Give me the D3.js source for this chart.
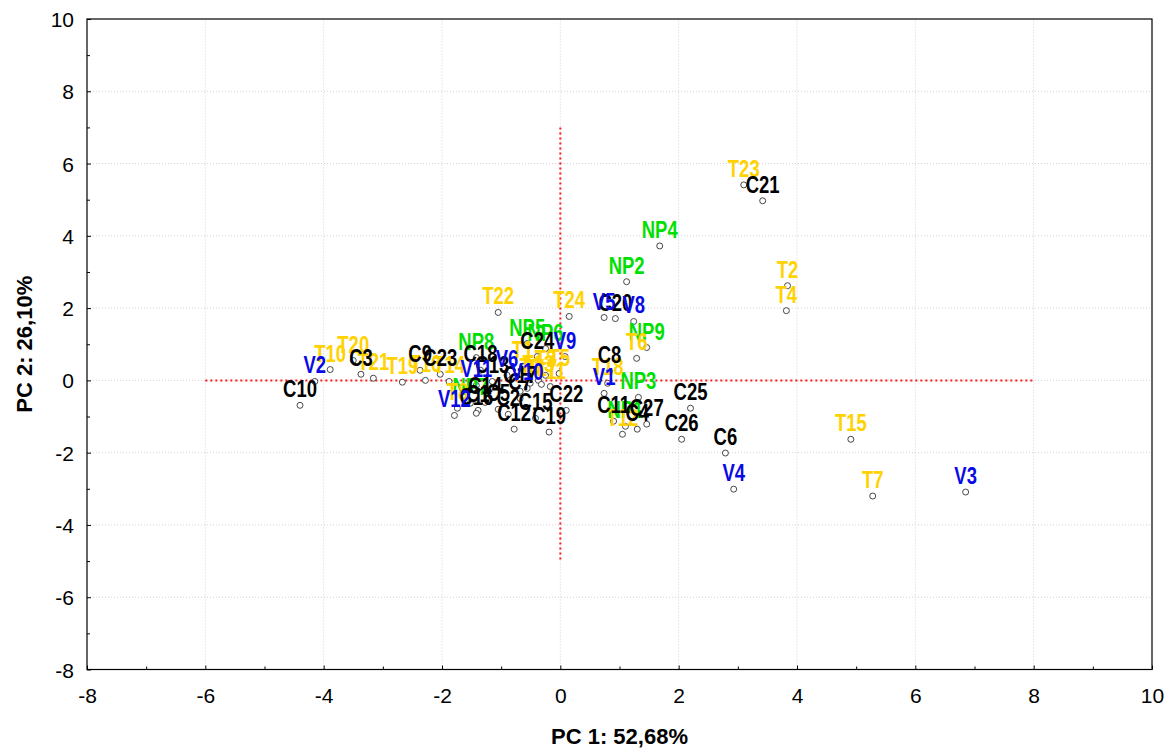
<!DOCTYPE html>
<html>
<head>
<meta charset="utf-8">
<script src="https://cdn.jsdelivr.net/npm/d3@7/dist/d3.min.js"></script>
<style>
  html, body { margin: 0; padding: 0; background: #fff; }
  svg { display: block; }
  text { font-family: "Liberation Sans", Arial, Helvetica, sans-serif; }
</style>
</head>
<body>
<svg id="chart" width="1176" height="751"></svg>
<script>
// PCA scores: [sample, PC1, PC2]
const samplesC = [
  ["C1", -1.39, -0.83], ["C2", -0.88, -0.94], ["C3", -3.37, 0.17], ["C4", 1.30, -1.35],
  ["C5", -1.05, -0.80], ["C6", 2.79, -2.01], ["C7", -0.68, -0.50], ["C8", 0.83, 0.25],
  ["C9", -2.37, 0.28], ["C10", -4.40, -0.69], ["C11", 0.90, -1.13], ["C12", -0.78, -1.35],
  ["C13", -1.15, -0.03], ["C14", -1.27, -0.61], ["C15", -0.42, -1.05], ["C16", -1.42, -0.91],
  ["C17", -0.68, -0.30], ["C18", -1.35, 0.28], ["C19", -0.19, -1.43], ["C20", 0.93, 1.71],
  ["C21", 3.42, 4.97], ["C22", 0.10, -0.83], ["C23", -2.03, 0.17], ["C24", -0.39, 0.66],
  ["C25", 2.20, -0.77], ["C26", 2.05, -1.63], ["C27", 1.46, -1.21]
];
const samplesT = [
  ["T1", -0.64, 0.39], ["T2", 3.84, 2.62], ["T3", -0.25, 0.14], ["T4", 3.82, 1.93],
  ["T5", -0.02, 0.19], ["T6", 1.29, 0.61], ["T7", 5.28, -3.20], ["T8", -1.74, -0.77],
  ["T9", -0.51, -0.08], ["T10", -3.89, 0.30], ["T11", -0.17, -0.17], ["T12", 1.05, -1.49],
  ["T13", -0.37, 0.00], ["T14", -1.88, -0.03], ["T15", 4.91, -1.63], ["T16", -2.28, 0.00],
  ["T17", -0.32, -0.11], ["T18", 0.80, -0.08], ["T19", -2.67, -0.05], ["T20", -3.50, 0.55],
  ["T21", -3.16, 0.06], ["T22", -1.05, 1.88], ["T23", 3.10, 5.41], ["T24", 0.15, 1.77]
];
const samplesV = [
  ["V1", 0.74, -0.36], ["V2", -4.15, -0.03], ["V3", 6.85, -3.09], ["V4", 2.93, -3.01],
  ["V5", 0.74, 1.74], ["V6", -0.90, 0.14], ["V8", 1.24, 1.63], ["V9", 0.08, 0.66],
  ["V10", -0.56, -0.22], ["V11", -1.42, -0.14], ["V12", -1.79, -0.97]
];
const samplesNP = [
  ["NP1", 1.10, -1.27], ["NP2", 1.12, 2.73], ["NP3", 1.32, -0.47], ["NP4", 1.68, 3.72],
  ["NP5", -0.56, 1.02], ["NP6", -0.25, 0.88], ["NP7", -1.52, -0.63], ["NP8", -1.42, 0.63],
  ["NP9", 1.46, 0.91]
];

const xTicks = [-8, -6, -4, -2, 0, 2, 4, 6, 8, 10];
const yTicks = [-8, -6, -4, -2, 0, 2, 4, 6, 8, 10];
const xTitle = "PC 1: 52,68%";
const yTitle = "PC 2: 26,10%";

// Drawing order of the groups, with label colours
const groups = [
  { rows: samplesNP, color: "#00e000" },
  { rows: samplesT,  color: "#ffd200" },
  { rows: samplesC,  color: "#000000" },
  { rows: samplesV,  color: "#0a0ae6" }
];

const svg = d3.select("#chart");
const m = { left: 87, right: 1176 - 1152, top: 19, bottom: 751 - 669.5 };
const W = 1176, H = 751;

const x = d3.scaleLinear().domain([-8, 10]).range([m.left, W - m.right]);
const y = d3.scaleLinear().domain([-8, 10]).range([H - m.bottom, m.top]);

// grid
const grid = svg.append("g");
grid.selectAll(".gx").data(xTicks.slice(1, -1)).join("line")
  .attr("x1", d => x(d)).attr("x2", d => x(d))
  .attr("y1", y(-8)).attr("y2", y(10))
  .attr("stroke", "#d2d2d2").attr("stroke-width", 1).attr("stroke-dasharray", "1,2");
grid.selectAll(".gy").data(yTicks.slice(1, -1)).join("line")
  .attr("y1", d => y(d)).attr("y2", d => y(d))
  .attr("x1", x(-8)).attr("x2", x(10))
  .attr("stroke", "#d2d2d2").attr("stroke-width", 1).attr("stroke-dasharray", "1,2");

// reference lines through the origin
svg.append("line")
  .attr("x1", x(-6)).attr("x2", x(8)).attr("y1", y(0)).attr("y2", y(0))
  .attr("stroke", "#ff1a1a").attr("stroke-width", 2).attr("stroke-dasharray", "2,3");
svg.append("line")
  .attr("x1", x(0)).attr("x2", x(0)).attr("y1", y(7)).attr("y2", y(-5))
  .attr("stroke", "#ff1a1a").attr("stroke-width", 2).attr("stroke-dasharray", "2,3");

// axes (ticks drawn inward)
const minor = d3.range(-8, 11, 1);
const xAxis = d3.axisBottom(x).tickValues(minor).tickSize(-3).tickFormat(d => xTicks.includes(d) ? d : "");
const yAxis = d3.axisLeft(y).tickValues(minor).tickSize(-3).tickFormat(d => yTicks.includes(d) ? d : "");

const gx = svg.append("g").attr("transform", `translate(0,${y(-8)})`).call(xAxis);
const gy = svg.append("g").attr("transform", `translate(${x(-8)},0)`).call(yAxis);
[gx, gy].forEach(g => {
  g.select(".domain").remove();
  g.selectAll(".tick line").attr("stroke", "#000").attr("stroke-width", 1);
  g.selectAll(".tick text").attr("fill", "#000").style("font-size", "21px")
    .style("font-family", "'Liberation Sans', Arial, sans-serif");
});
gx.selectAll(".tick").filter(d => xTicks.includes(d)).select("line").attr("y2", -4);
gy.selectAll(".tick").filter(d => yTicks.includes(d)).select("line").attr("x2", 4);
gx.selectAll(".tick text").attr("y", 0).attr("dy", "33px");
gy.selectAll(".tick text").attr("x", -13).attr("dy", "0.36em");

// frame
svg.append("rect")
  .attr("x", x(-8)).attr("y", y(10))
  .attr("width", x(10) - x(-8)).attr("height", y(-8) - y(10))
  .attr("fill", "none").attr("stroke", "#000").attr("stroke-width", 1.2);

// axis titles
svg.append("text")
  .attr("x", (x(-8) + x(10)) / 2).attr("y", 744)
  .attr("text-anchor", "middle").style("font-size", "22px").style("font-weight", "bold")
  .text(xTitle);
svg.append("text")
  .attr("transform", `translate(32,${(y(-8) + y(10)) / 2}) rotate(-90)`)
  .attr("text-anchor", "middle").style("font-size", "22px").style("font-weight", "bold")
  .text(yTitle);

// points
const allRows = groups.flatMap(g => g.rows);
svg.append("g").selectAll("circle").data(allRows).join("circle")
  .attr("cx", d => x(d[1])).attr("cy", d => y(d[2])).attr("r", 3)
  .attr("fill", "#fff").attr("stroke", "#333").attr("stroke-width", 0.9);

// sample labels, centred above each point
groups.forEach(g => {
  svg.append("g").selectAll("text").data(g.rows).join("text")
    .attr("transform", d => `translate(${x(d[1])},${y(d[2]) - 8}) scale(0.84,1.08)`)
    .attr("text-anchor", "middle")
    .style("font-size", "22px").style("font-weight", "bold")
    .attr("fill", g.color)
    .text(d => d[0]);
});
</script>
</body>
</html>
